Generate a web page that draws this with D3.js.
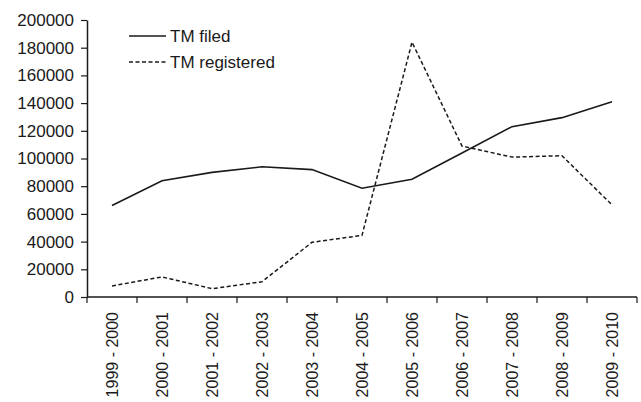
<!DOCTYPE html>
<html>
<head>
<meta charset="utf-8">
<script src="https://cdn.jsdelivr.net/npm/d3@7"></script>
<style>
  html, body { margin: 0; padding: 0; background: #fff; }
  svg { display: block; font-family: "Liberation Sans", Arial, sans-serif; }
</style>
</head>
<body>
<svg id="chart" width="641" height="402"></svg>
<script>
const categories = ["1999 - 2000","2000 - 2001","2001 - 2002","2002 - 2003","2003 - 2004","2004 - 2005","2005 - 2006","2006 - 2007","2007 - 2008","2008 - 2009","2009 - 2010"];
const tmFiled = [66000, 84000, 90000, 94000, 92000, 78500, 85000, 104000, 123000, 129500, 141000];
const tmRegistered = [8000, 14500, 6000, 11000, 39500, 44500, 184000, 109000, 101000, 102000, 66500];
const yTicks = [0, 20000, 40000, 60000, 80000, 100000, 120000, 140000, 160000, 180000, 200000];
const seriesNames = ["TM filed", "TM registered"];

const svg = d3.select("#chart");
const margin = {left: 87, right: 4, top: 20, bottom: 105};
const x = d3.scaleBand().domain(categories).range([margin.left, 637]);
const y = d3.scaleLinear().domain([0, 200000]).range([297, 20]);
const ink = "#1a1a1a";

// y axis
const yAxis = svg.append("g").attr("transform", `translate(${margin.left},0)`)
  .call(d3.axisLeft(y).tickValues(yTicks).tickFormat(d3.format("d")).tickSize(6).tickSizeOuter(0));
yAxis.select(".domain").attr("stroke", ink).attr("stroke-width", 1.5);
yAxis.selectAll(".tick line").attr("stroke", ink).attr("stroke-width", 1.2);
yAxis.selectAll(".tick text").attr("font-size", 17).attr("fill", ink).attr("x", -13)
  .attr("font-family", "Liberation Sans, Arial, sans-serif");

// x axis with ticks at band boundaries
const xAxisG = svg.append("g").attr("transform", `translate(0,297)`);
xAxisG.append("line").attr("x1", margin.left).attr("x2", 637).attr("y1", 0).attr("y2", 0)
  .attr("stroke", ink).attr("stroke-width", 1.5);
const bounds = categories.map(c => x(c)).concat([x.range()[1]]);
xAxisG.selectAll("line.tk").data(bounds).enter().append("line").attr("class","tk")
  .attr("x1", d => d).attr("x2", d => d).attr("y1", 0).attr("y2", 6)
  .attr("stroke", ink).attr("stroke-width", 1.2);
xAxisG.selectAll("text").data(categories).enter().append("text")
  .attr("transform", d => `translate(${x(d) + x.bandwidth()/2 + 6},${15}) rotate(-90)`)
  .attr("text-anchor", "end")
  .attr("font-size", 16).attr("fill", ink)
  .text(d => d);

// lines
const line = d3.line().x((d, i) => x(categories[i]) + x.bandwidth()/2).y(d => y(d));
svg.append("path").datum(tmFiled).attr("d", line)
  .attr("fill", "none").attr("stroke", ink).attr("stroke-width", 1.6);
svg.append("path").datum(tmRegistered).attr("d", line)
  .attr("fill", "none").attr("stroke", ink).attr("stroke-width", 1.5).attr("stroke-dasharray", "4,2.5");

// legend
const legend = svg.append("g");
const leg = [{name: seriesNames[0], dash: null, yy: 36}, {name: seriesNames[1], dash: "4,2.5", yy: 62}];
leg.forEach(l => {
  legend.append("line").attr("x1", 129).attr("x2", 166).attr("y1", l.yy).attr("y2", l.yy)
    .attr("stroke", ink).attr("stroke-width", 1.5).attr("stroke-dasharray", l.dash);
  legend.append("text").attr("x", 170).attr("y", l.yy + 6).attr("font-size", 17).attr("fill", ink).text(l.name);
});
</script>
</body>
</html>
